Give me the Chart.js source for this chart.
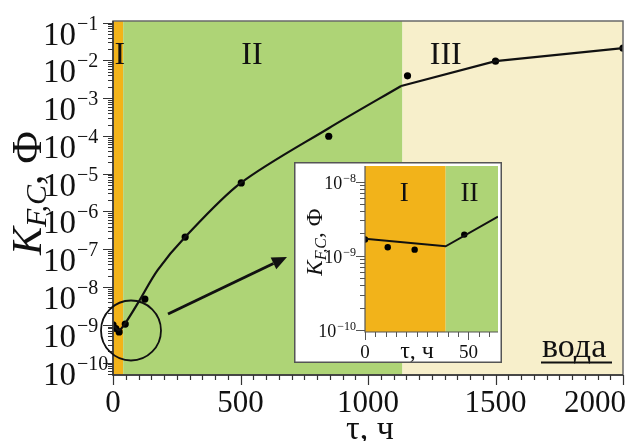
<!DOCTYPE html>
<html>
<head>
<meta charset="utf-8">
<script src="https://cdn.jsdelivr.net/npm/chart.js@4.4.1/dist/chart.umd.min.js"></script>
<style>
  html, body { margin: 0; padding: 0; background: #fff; }
  #wrap { position: relative; width: 635px; height: 441px; overflow: hidden; }
  #mainChart { position: absolute; left: 0; top: 0; }
  #insetChart { position: absolute; left: 294px; top: 162px; }
</style>
</head>
<body>
<div id="wrap">
  <canvas id="mainChart" width="635" height="441"></canvas>
  <canvas id="insetChart" width="208" height="201"></canvas>
</div>
<script>
// Main plot: measured points (hours, K in F)
const pointHours = [0, 11, 24, 48, 125, 283, 503, 846, 1155, 1500, 2000];
const pointK = [1.0e-9, 8.0e-10, 6.5e-10, 1.05e-9, 4.8e-9, 2.1e-7, 5.7e-6, 9.8e-5, 3.9e-3, 9.5e-3, 2.1e-2];

// Main plot: fitted curve (stage I-II part and stage III part)
const curveHours = [0, 24, 51, 100, 175, 283, 500, 846, 1130];
const curveK = [1.0e-9, 7.2e-10, 1.18e-9, 4.0e-9, 2.8e-8, 2.1e-7, 5.6e-6, 1.6e-4, 2.1e-3];
const tailHours = [1130, 1500, 2000];
const tailK = [2.1e-3, 9.5e-3, 2.1e-2];

// Stages
const stageNames = ['I', 'II', 'III'];
const stageFrom = [0, 40, 1135];
const stageTo = [40, 1135, 2000];
const stageLabelAt = [27, 545, 1305];
const stageColors = ['#F2B31A', '#AED476', '#F7EFCB'];

// Axis ticks
const xTickValues = [0, 500, 1000, 1500, 2000];
const yExponents = [-10, -9, -8, -7, -6, -5, -4, -3, -2, -1];

// Inset data
const insetPointHours = [0, 11, 24, 48];
const insetPointK = [1.66e-9, 1.3e-9, 1.21e-9, 1.93e-9];
const insetLineHours = [0, 39, 64.3];
const insetLineK = [1.69e-9, 1.34e-9, 3.36e-9];
const insetStageNames = ['I', 'II'];
const insetStageFrom = [0, 39];
const insetStageTo = [39, 64.3];
const insetStageLabelAt = [19, 50.5];
const insetXTickValues = [0, 50];
const insetYExponents = [-10, -9, -8];

const SERIF = '"Liberation Serif", "Times New Roman", serif';

function toXY(xs, ys) {
  return xs.map((x, i) => ({ x: x, y: ys[i] }));
}

// Draw power-of-ten label with a raised exponent
function drawPow(ctx, x, yBase, exp, bigSize, smallSize, supRise, align) {
  ctx.font = bigSize + 'px ' + SERIF;
  const w10 = ctx.measureText('10').width;
  ctx.font = smallSize + 'px ' + SERIF;
  const sup = '\u2212' + Math.abs(exp);
  const wSup = ctx.measureText(sup).width;
  const left = align === 'right' ? x - w10 - wSup - 1 : x;
  ctx.textAlign = 'left';
  ctx.textBaseline = 'alphabetic';
  ctx.font = bigSize + 'px ' + SERIF;
  ctx.fillText('10', left, yBase);
  ctx.font = smallSize + 'px ' + SERIF;
  ctx.fillText(sup, left + w10 + 1, yBase - supRise);
}

// Rotated "K_{F,C}, Ф" title
function drawKTitle(ctx, cx, cy, big, small, drop) {
  ctx.save();
  ctx.translate(cx, cy);
  ctx.rotate(-Math.PI / 2);
  ctx.textAlign = 'left';
  ctx.textBaseline = 'alphabetic';
  ctx.font = 'italic ' + big + 'px ' + SERIF;
  const wK = ctx.measureText('K').width;
  ctx.font = 'italic ' + small + 'px ' + SERIF;
  const wSub = ctx.measureText('F,C').width;
  ctx.font = big + 'px ' + SERIF;
  const wRest = ctx.measureText(', \u0424').width;
  let pos = -(wK + wSub + wRest) / 2;
  ctx.font = 'italic ' + big + 'px ' + SERIF;
  ctx.fillText('K', pos, 0);
  pos += wK;
  ctx.font = 'italic ' + small + 'px ' + SERIF;
  ctx.fillText('F,C', pos, drop);
  pos += wSub;
  ctx.font = big + 'px ' + SERIF;
  ctx.fillText(', \u0424', pos, 0);
  ctx.restore();
}

function drawStages(chart, from, to, colors, names, labelAt, fontSize, labelDy) {
  const { ctx, chartArea: a, scales: { x } } = chart;
  ctx.save();
  from.forEach((f, i) => {
    const x0 = x.getPixelForValue(f);
    const x1 = x.getPixelForValue(to[i]);
    ctx.fillStyle = colors[i];
    ctx.fillRect(x0, a.top, x1 - x0, a.bottom - a.top);
  });
  ctx.fillStyle = '#111';
  ctx.font = fontSize + 'px ' + SERIF;
  ctx.textAlign = 'center';
  ctx.textBaseline = 'alphabetic';
  names.forEach((n, i) => ctx.fillText(n, x.getPixelForValue(labelAt[i]), a.top + labelDy));
  ctx.restore();
}

function drawLogTicks(ctx, y, left, exps, majorLen, minorLen) {
  const lo = y.min, hi = y.max;
  ctx.beginPath();
  for (let e = exps[0] - 1; e <= exps[exps.length - 1]; e++) {
    for (let k = 1; k <= 9; k++) {
      const v = k * Math.pow(10, e);
      if (v < lo || v > hi) continue;
      const py = Math.round(y.getPixelForValue(v)) + 0.5;
      ctx.moveTo(left - (k === 1 ? majorLen : minorLen), py);
      ctx.lineTo(left, py);
    }
  }
  ctx.stroke();
}

const mainDecor = {
  id: 'mainDecor',
  beforeDatasetsDraw(chart) {
    drawStages(chart, stageFrom, stageTo, stageColors, stageNames, stageLabelAt, 32, 43);
  },
  afterDraw(chart) {
    const { ctx, chartArea: a, scales: { x, y } } = chart;
    ctx.save();

    // frame
    ctx.strokeStyle = '#6a6a6a';
    ctx.lineWidth = 1.5;
    ctx.strokeRect(a.left, a.top, a.right - a.left, a.bottom - a.top);
    ctx.strokeStyle = '#333';
    ctx.beginPath();
    ctx.moveTo(a.left, a.top);
    ctx.lineTo(a.left, a.bottom);
    ctx.lineTo(a.right, a.bottom);
    ctx.stroke();

    // y ticks
    ctx.lineWidth = 1.2;
    ctx.strokeStyle = '#333';
    drawLogTicks(ctx, y, a.left, yExponents, 10, 5);

    // x ticks
    ctx.beginPath();
    for (let v = 0; v <= 2000; v += 50) {
      const px = Math.round(x.getPixelForValue(v)) + 0.5;
      ctx.moveTo(px, a.bottom);
      ctx.lineTo(px, a.bottom + (v % 500 === 0 ? 10 : 5));
    }
    ctx.stroke();

    // y labels
    ctx.fillStyle = '#111';
    yExponents.forEach(e => {
      const py = y.getPixelForValue(Math.pow(10, e));
      drawPow(ctx, 43, py + 22, e, 33, 20, 15, 'left');
    });

    // x labels (last one kept inside the picture)
    ctx.font = '31px ' + SERIF;
    ctx.textBaseline = 'alphabetic';
    xTickValues.forEach((v, i) => {
      const last = i === xTickValues.length - 1;
      ctx.textAlign = last ? 'right' : 'center';
      ctx.fillText(String(v), last ? 626 : x.getPixelForValue(v), 412);
    });

    // axis titles
    ctx.textAlign = 'center';
    ctx.font = '34px ' + SERIF;
    ctx.fillText('\u03C4, \u0447', 370, 439);
    drawKTitle(ctx, 41, 193, 42, 30, 5);

    // water label
    ctx.font = '34px ' + SERIF;
    ctx.textAlign = 'left';
    ctx.fillText('\u0432\u043E\u0434\u0430', 542, 357);
    ctx.lineWidth = 2;
    ctx.strokeStyle = '#111';
    ctx.beginPath();
    ctx.moveTo(541, 362.5);
    ctx.lineTo(612, 362.5);
    ctx.stroke();

    // circle around early points
    ctx.lineWidth = 1.8;
    ctx.beginPath();
    ctx.arc(131, 330.5, 30, 0, Math.PI * 2);
    ctx.stroke();

    // arrow to inset
    const sx = 168, sy = 314, tx = 287, ty = 257;
    const len = Math.hypot(tx - sx, ty - sy);
    const ux = (tx - sx) / len, uy = (ty - sy) / len;
    const hl = 15, hw = 6.5;
    ctx.lineWidth = 3;
    ctx.beginPath();
    ctx.moveTo(sx, sy);
    ctx.lineTo(tx - ux * hl, ty - uy * hl);
    ctx.stroke();
    ctx.fillStyle = '#111';
    ctx.beginPath();
    ctx.moveTo(tx, ty);
    ctx.lineTo(tx - ux * hl - uy * hw, ty - uy * hl + ux * hw);
    ctx.lineTo(tx - ux * hl + uy * hw, ty - uy * hl - ux * hw);
    ctx.closePath();
    ctx.fill();

    ctx.restore();
  }
};

const insetDecor = {
  id: 'insetDecor',
  beforeDraw(chart) {
    const { ctx, width, height } = chart;
    ctx.save();
    ctx.fillStyle = '#fff';
    ctx.fillRect(0, 0, width, height);
    ctx.restore();
  },
  beforeDatasetsDraw(chart) {
    drawStages(chart, insetStageFrom, insetStageTo, stageColors, insetStageNames, insetStageLabelAt, 27, 35);
  },
  afterDraw(chart) {
    const { ctx, chartArea: a, scales: { x, y }, width, height } = chart;
    ctx.save();
    ctx.strokeStyle = '#555';
    ctx.lineWidth = 1.2;
    ctx.beginPath();
    ctx.moveTo(a.left, a.top);
    ctx.lineTo(a.left, a.bottom);
    ctx.lineTo(a.right, a.bottom);
    ctx.stroke();

    ctx.lineWidth = 1;
    drawLogTicks(ctx, y, a.left, insetYExponents, 9, 5);
    ctx.beginPath();
    for (let v = 0; v <= 60; v += 5) {
      const px = Math.round(x.getPixelForValue(v)) + 0.5;
      ctx.moveTo(px, a.bottom);
      ctx.lineTo(px, a.bottom + (v % 50 === 0 ? 8 : 5));
    }
    ctx.stroke();

    ctx.fillStyle = '#111';
    insetYExponents.forEach(e => {
      const py = y.getPixelForValue(Math.pow(10, e));
      drawPow(ctx, a.left - 9, py + 7, e, 18, 12, 7, 'right');
    });

    ctx.font = '19px ' + SERIF;
    ctx.textAlign = 'center';
    ctx.textBaseline = 'alphabetic';
    insetXTickValues.forEach(v => ctx.fillText(String(v), x.getPixelForValue(v), 196));
    ctx.font = '24px ' + SERIF;
    ctx.fillText('\u03C4, \u0447', 123, 196);
    drawKTitle(ctx, 28, 80, 23, 16, 4);

    ctx.strokeStyle = '#555';
    ctx.lineWidth = 1.5;
    ctx.strokeRect(0.75, 0.75, width - 1.5, height - 1.5);
    ctx.restore();
  }
};

new Chart(document.getElementById('mainChart'), {
  type: 'line',
  data: {
    datasets: [
      {
        data: toXY(curveHours, curveK),
        borderColor: '#111',
        borderWidth: 2.2,
        pointRadius: 0,
        tension: 0.3,
        fill: false
      },
      {
        data: toXY(tailHours, tailK),
        borderColor: '#111',
        borderWidth: 2.2,
        pointRadius: 0,
        tension: 0,
        fill: false
      },
      {
        data: toXY(pointHours, pointK),
        showLine: false,
        pointRadius: 3.6,
        pointBackgroundColor: '#000',
        pointBorderWidth: 0
      }
    ]
  },
  options: {
    responsive: false,
    animation: false,
    events: [],
    layout: { padding: { left: 113, right: 12, top: 21, bottom: 66 } },
    scales: {
      x: { type: 'linear', min: 0, max: 2000, display: false },
      y: { type: 'logarithmic', min: 4.7e-11, max: 0.11, display: false }
    },
    plugins: {
      legend: { display: false },
      tooltip: { enabled: false }
    }
  },
  plugins: [mainDecor]
});

new Chart(document.getElementById('insetChart'), {
  type: 'line',
  data: {
    datasets: [
      {
        data: toXY(insetLineHours, insetLineK),
        borderColor: '#111',
        borderWidth: 2,
        pointRadius: 0,
        tension: 0,
        fill: false
      },
      {
        data: toXY(insetPointHours, insetPointK),
        showLine: false,
        pointRadius: 3.2,
        pointBackgroundColor: '#000',
        pointBorderWidth: 0
      }
    ]
  },
  options: {
    responsive: false,
    animation: false,
    events: [],
    layout: { padding: { left: 71, right: 2, top: 0, bottom: 31 } },
    scales: {
      x: { type: 'linear', min: 0, max: 64.3, display: false },
      y: { type: 'logarithmic', min: 9.4e-11, max: 1.62e-8, display: false }
    },
    plugins: {
      legend: { display: false },
      tooltip: { enabled: false }
    }
  },
  plugins: [insetDecor]
});
</script>
</body>
</html>
